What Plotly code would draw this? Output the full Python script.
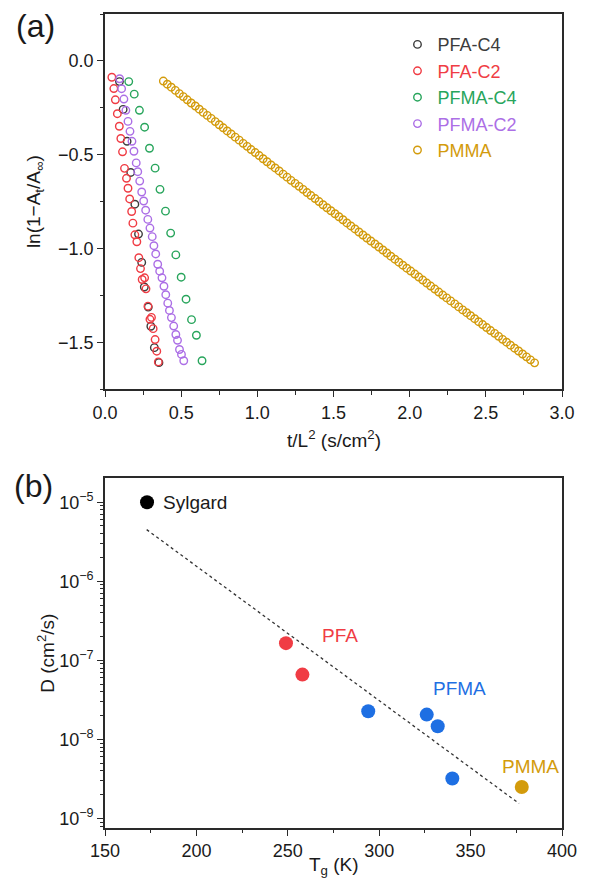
import plotly.graph_objects as go

# ---------------- Panel (a) data ----------------
PFA_C4_T = [0.095, 0.119, 0.145, 0.169, 0.196, 0.220, 0.241, 0.258, 0.284, 0.301, 0.324, 0.354]
PFA_C4_Y = [-0.110, -0.258, -0.428, -0.594, -0.763, -0.922, -1.073, -1.204, -1.311, -1.413, -1.527, -1.607]

PFA_C2_T = [0.045, 0.058, 0.068, 0.081, 0.094, 0.104, 0.115, 0.128, 0.141, 0.151, 0.162, 0.175,
            0.183, 0.196, 0.209, 0.222, 0.233, 0.244, 0.260, 0.269, 0.282, 0.295, 0.305, 0.316,
            0.329, 0.340, 0.350]
PFA_C2_Y = [-0.087, -0.147, -0.207, -0.281, -0.348, -0.413, -0.484, -0.572, -0.625, -0.678, -0.735, -0.802,
            -0.864, -0.926, -0.963, -1.048, -1.106, -1.164, -1.155, -1.214, -1.306, -1.376, -1.366, -1.426,
            -1.484, -1.546, -1.603]

PFMA_C4_T = [0.156, 0.192, 0.226, 0.260, 0.292, 0.329, 0.361, 0.397, 0.431, 0.465, 0.500, 0.532,
             0.568, 0.600, 0.637]
PFMA_C4_Y = [-0.110, -0.177, -0.263, -0.353, -0.465, -0.571, -0.684, -0.800, -0.917, -1.033, -1.152, -1.269,
             -1.378, -1.461, -1.597]

PFMA_C2_T = [0.096, 0.109, 0.124, 0.137, 0.151, 0.164, 0.177, 0.190, 0.205, 0.215, 0.228, 0.241,
             0.254, 0.267, 0.281, 0.295, 0.310, 0.321, 0.333, 0.346, 0.359, 0.374, 0.387, 0.399,
             0.412, 0.423, 0.436, 0.451, 0.465, 0.476, 0.489, 0.502, 0.517]
PFMA_C2_Y = [-0.095, -0.148, -0.203, -0.263, -0.322, -0.375, -0.428, -0.481, -0.543, -0.590, -0.640, -0.698,
             -0.746, -0.795, -0.844, -0.890, -0.936, -0.984, -1.028, -1.083, -1.120, -1.155, -1.200, -1.245,
             -1.290, -1.329, -1.367, -1.412, -1.457, -1.488, -1.537, -1.563, -1.597]

PMMA_T = [0.383, 0.409, 0.435, 0.462, 0.488, 0.514, 0.540, 0.566, 0.593, 0.619,
          0.645, 0.671, 0.697, 0.724, 0.750, 0.776, 0.802, 0.828, 0.855, 0.881,
          0.907, 0.933, 0.959, 0.986, 1.012, 1.038, 1.064, 1.090, 1.117, 1.143,
          1.169, 1.195, 1.221, 1.248, 1.274, 1.300, 1.326, 1.352, 1.379, 1.405,
          1.431, 1.457, 1.483, 1.510, 1.536, 1.562, 1.588, 1.614, 1.641, 1.667,
          1.693, 1.719, 1.745, 1.772, 1.798, 1.824, 1.850, 1.876, 1.903, 1.929,
          1.955, 1.981, 2.007, 2.034, 2.060, 2.086, 2.112, 2.138, 2.165, 2.191,
          2.217, 2.243, 2.269, 2.296, 2.322, 2.348, 2.374, 2.400, 2.427, 2.453,
          2.479, 2.505, 2.531, 2.558, 2.584, 2.610, 2.636, 2.662, 2.689, 2.715,
          2.741, 2.767, 2.793, 2.820]
PMMA_Y = [-0.107, -0.124, -0.140, -0.157, -0.174, -0.190, -0.207, -0.224, -0.240, -0.257,
          -0.274, -0.290, -0.306, -0.323, -0.340, -0.356, -0.373, -0.389, -0.406, -0.422,
          -0.439, -0.455, -0.472, -0.488, -0.504, -0.521, -0.537, -0.554, -0.570, -0.586,
          -0.603, -0.619, -0.636, -0.652, -0.668, -0.684, -0.701, -0.717, -0.733, -0.749,
          -0.766, -0.782, -0.798, -0.814, -0.830, -0.846, -0.863, -0.879, -0.895, -0.911,
          -0.927, -0.943, -0.959, -0.975, -0.991, -1.007, -1.023, -1.040, -1.056, -1.072,
          -1.088, -1.104, -1.119, -1.135, -1.151, -1.167, -1.183, -1.199, -1.215, -1.231,
          -1.247, -1.262, -1.278, -1.294, -1.310, -1.326, -1.341, -1.357, -1.373, -1.389,
          -1.404, -1.420, -1.436, -1.451, -1.467, -1.483, -1.498, -1.514, -1.530, -1.545,
          -1.561, -1.576, -1.592, -1.608]

# ---------------- Panel (b) data ----------------
SYL_TG = [173]
SYL_D = [1.0e-5]
PFA_TG = [249, 258]
PFA_D = [1.65e-7, 6.6e-8]
PFMA_TG = [294, 326, 332, 340]
PFMA_D = [2.27e-8, 2.06e-8, 1.47e-8, 3.2e-9]
PMMA_TG = [378]
PMMA_D = [2.5e-9]
FIT_TG = [172.8, 376.5]
FIT_D = [4.5e-6, 1.55e-9]

Y_TICKS_A = [0.0, -0.5, -1.0, -1.5]
X_TICKS_A = [0.0, 0.5, 1.0, 1.5, 2.0, 2.5, 3.0]
X_TICKS_B = [150, 200, 250, 300, 350, 400]
Y_EXP_B = [-9, -8, -7, -6, -5]

# colours
C_GRAY = "#3c3c3c"
C_RED = "#f03c44"
C_GREEN = "#28a55c"
C_PURPLE = "#ac6fe6"
C_GOLD = "#d39b0c"
C_BLUE = "#1e6fe3"
AX = "#2a2a2a"
FONT = "Liberation Sans, Arial, sans-serif"

fig = go.Figure()

series_a = [
    ("PFA-C4", PFA_C4_T, PFA_C4_Y, C_GRAY),
    ("PFA-C2", PFA_C2_T, PFA_C2_Y, C_RED),
    ("PFMA-C4", PFMA_C4_T, PFMA_C4_Y, C_GREEN),
    ("PFMA-C2", PFMA_C2_T, PFMA_C2_Y, C_PURPLE),
    ("PMMA", PMMA_T, PMMA_Y, C_GOLD),
]
for name, xs, ys, col in series_a:
    fig.add_trace(go.Scatter(
        x=xs, y=ys, mode="markers", xaxis="x", yaxis="y",
        name=f"<span style='color:{col}'>{name}</span>",
        marker=dict(symbol="circle-open", size=7.5, color=col, line=dict(width=1.4, color=col)),
    ))

# panel b
fig.add_trace(go.Scatter(x=FIT_TG, y=FIT_D, mode="lines", xaxis="x2", yaxis="y2",
                         line=dict(color="#333333", width=1.3, dash="dot"), showlegend=False))
for xs, ys, col in [(SYL_TG, SYL_D, "#000000"), (PFA_TG, PFA_D, C_RED),
                    (PFMA_TG, PFMA_D, C_BLUE), (PMMA_TG, PMMA_D, C_GOLD)]:
    fig.add_trace(go.Scatter(x=xs, y=ys, mode="markers", xaxis="x2", yaxis="y2",
                             marker=dict(size=14, color=col, line=dict(width=0)), showlegend=False))

axis_common = dict(showline=True, linecolor=AX, linewidth=1.6, mirror=True, ticks="outside",
                   ticklen=6, tickwidth=1.4, tickcolor=AX, showgrid=False, zeroline=False,
                   tickfont=dict(size=18, color="#1a1a1a", family=FONT))

minor_ticks_log = [m * 10.0 ** e for e in range(-10, -4) for m in range(2, 10)]

fig.update_layout(
    width=589, height=882,
    margin=dict(l=105, r=15, t=13, b=54),
    plot_bgcolor="white", paper_bgcolor="white",
    font=dict(family=FONT, size=18, color="#1a1a1a"),
    xaxis=dict(domain=[0, 1], anchor="y", range=[0, 3], tickvals=X_TICKS_A, tickformat=".1f",
               minor=dict(dtick=0.25, ticks="outside", ticklen=3.5, tickwidth=1.2, tickcolor=AX),
               **axis_common),
    yaxis=dict(domain=[0.5387, 1.0], anchor="x", range=[-1.75, 0.25], tickvals=Y_TICKS_A, tickformat=".1f",
               minor=dict(dtick=0.25, ticks="outside", ticklen=3.5, tickwidth=1.2, tickcolor=AX),
               **axis_common),
    xaxis2=dict(domain=[0, 1], anchor="y2", range=[150, 400], tickvals=X_TICKS_B,
                minor=dict(dtick=25, ticks="outside", ticklen=3.5, tickwidth=1.2, tickcolor=AX),
                **axis_common),
    yaxis2=dict(domain=[0, 0.4294], anchor="x2", type="log", range=[-9.12, -4.70],
                tickvals=[10.0 ** e for e in Y_EXP_B],
                ticktext=[f"10<sup>\u2212{-e}</sup>" for e in Y_EXP_B],
                minor=dict(tickvals=minor_ticks_log, ticks="outside", ticklen=3.5, tickwidth=1.2, tickcolor=AX),
                **axis_common),
    legend=dict(x=0.640, y=0.985, xanchor="left", yanchor="top", bgcolor="rgba(0,0,0,0)",
                font=dict(size=18, family=FONT), itemsizing="trace", tracegroupgap=0),
    showlegend=True,
)

ann = [
    dict(text="(a)", x=-0.151, y=0.985, xref="paper", yref="paper", font=dict(size=32)),
    dict(text="(b)", x=-0.1555, y=0.4205, xref="paper", yref="paper", font=dict(size=32)),
    dict(text="t/L<sup>2</sup> (s/cm<sup>2</sup>)", x=0.501, y=0.4785, xref="paper", yref="paper",
         font=dict(size=19)),
    dict(text="ln(1\u2212A<sub>t</sub>/A<sub>\u221e</sub>)", x=-0.153, y=0.769, xref="paper", yref="paper",
         textangle=-90, font=dict(size=19)),
    dict(text="T<sub>g</sub> (K)", x=0.501, y=-0.047, xref="paper", yref="paper", font=dict(size=19)),
    dict(text="D (cm<sup>2</sup>/s)", x=-0.128, y=0.2147, xref="paper", yref="paper",
         textangle=-90, font=dict(size=19)),
    dict(text="Sylgard", x=180.9, y=-5.0, xref="x2", yref="y2", xanchor="left",
         font=dict(size=19, color="#1a1a1a")),
    dict(text="PFA", x=278.8, y=-6.684, xref="x2", yref="y2", font=dict(size=19, color=C_RED)),
    dict(text="PFMA", x=344.0, y=-7.354, xref="x2", yref="y2", font=dict(size=19, color=C_BLUE)),
    dict(text="PMMA", x=382.9, y=-8.346, xref="x2", yref="y2", font=dict(size=19, color=C_GOLD)),
]
for a in ann:
    a.setdefault("showarrow", False)
    a.setdefault("xanchor", "center")
    a.setdefault("yanchor", "middle")
    a["font"].setdefault("family", FONT)
    a["font"].setdefault("color", "#1a1a1a")
fig.update_layout(annotations=ann)

fig.write_html("out.html", config={"displayModeBar": False},
               post_script="document.body.style.margin='0px';document.body.style.padding='0px';"
                           "document.body.style.overflow='hidden';")
